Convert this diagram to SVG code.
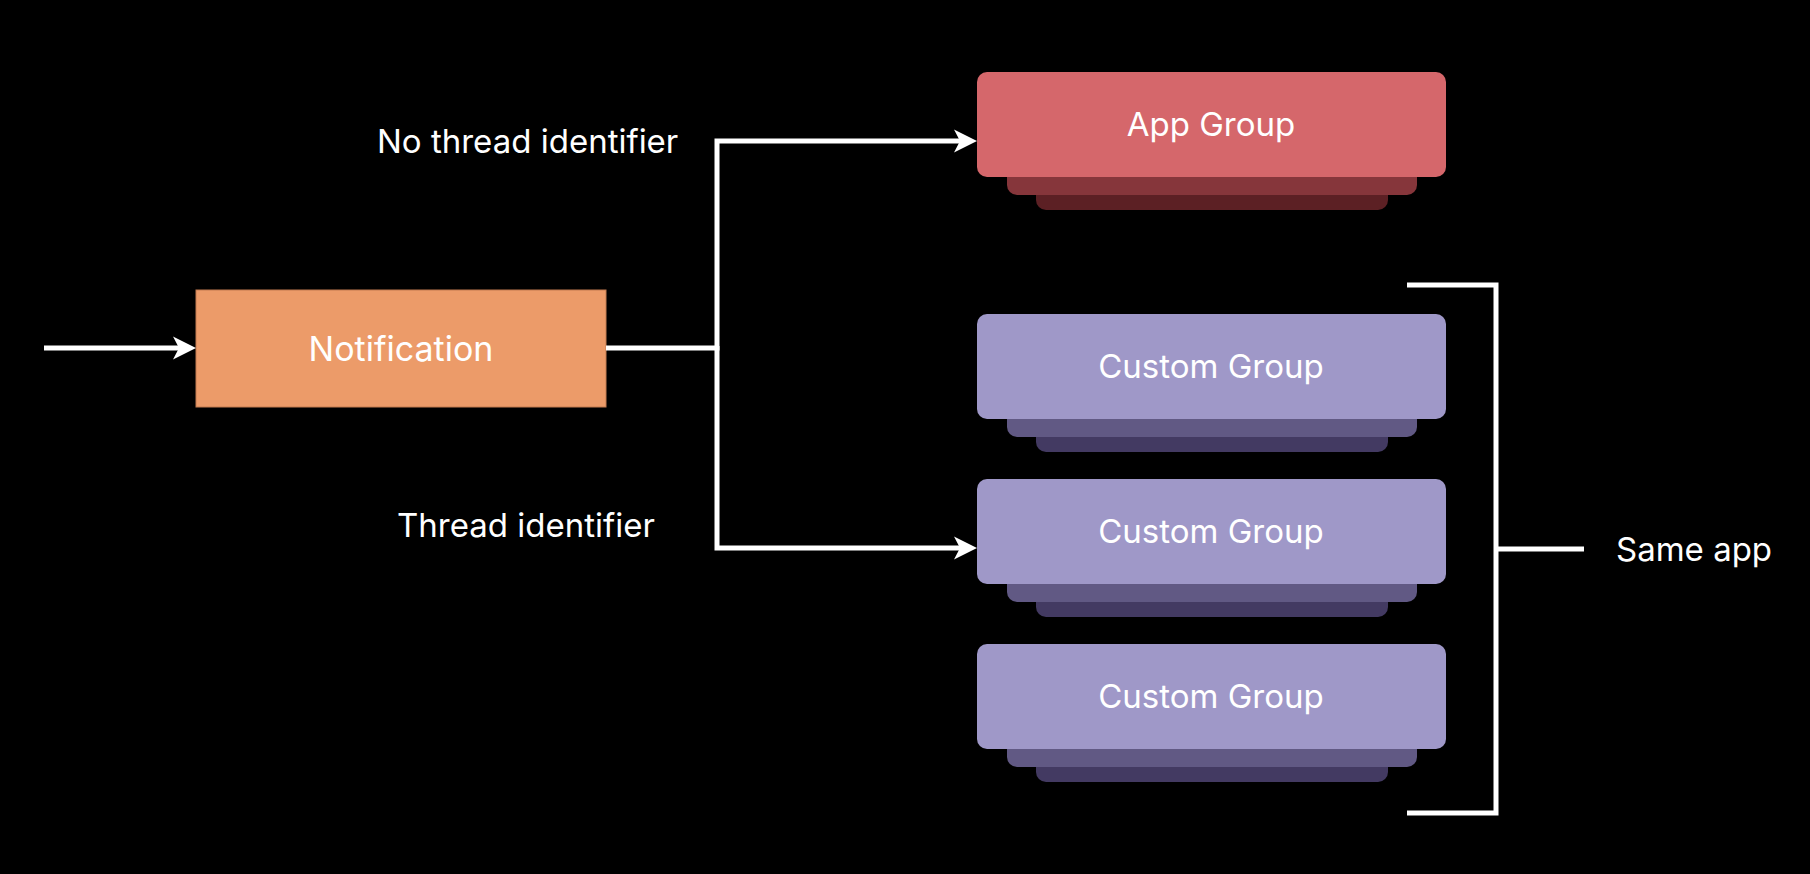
<svg xmlns="http://www.w3.org/2000/svg" width="1810" height="874" viewBox="0 0 1810 874">
<style>
  .t { font-family: Inter, "Open Sans", "Liberation Sans", sans-serif; font-size: 33px; fill: #ffffff; }
  .c { text-anchor: middle; }
  .ln { fill: none; stroke: #ffffff; stroke-width: 5; stroke-linejoin: miter; }
  .app0 { fill: #D5676B; }
  .app1 { fill: #86363B; }
  .app2 { fill: #5C2024; }
  .cg0 { fill: #9F98C8; }
  .cg1 { fill: #615984; }
  .cg2 { fill: #433A62; }
</style>
<defs>
  <marker id="arr" markerUnits="userSpaceOnUse" markerWidth="26" markerHeight="26" viewBox="-24 -13 26 26" refX="-10" refY="0" orient="auto">
    <path d="M0,0 L-23,-11.5 L-17,0 L-23,11.5 Z" fill="#ffffff"/>
  </marker>
</defs>
<rect width="1810" height="874" fill="#000000"/>

<g id="notification">
  <rect x="196" y="290" width="410" height="117" fill="#EC9B69" stroke="#C27A50" stroke-width="1"/>
  <text class="t c" x="401" y="361" style="font-size:34px">Notification</text>
</g>

<g id="app-group">
  <rect class="app2" x="1036" y="160" width="352" height="50" rx="10"/>
  <rect class="app1" x="1007" y="150" width="410" height="45" rx="10"/>
  <rect class="app0" x="977" y="72" width="469" height="105" rx="10"/>
  <text class="t c" x="1211" y="136">App Group</text>
</g>

<g id="custom-group-1">
  <rect class="cg2" x="1036" y="402" width="352" height="50" rx="10"/>
  <rect class="cg1" x="1007" y="392" width="410" height="45" rx="10"/>
  <rect class="cg0" x="977" y="314" width="469" height="105" rx="10"/>
  <text class="t c" x="1211" y="378">Custom Group</text>
</g>

<g id="custom-group-2">
  <rect class="cg2" x="1036" y="567" width="352" height="50" rx="10"/>
  <rect class="cg1" x="1007" y="557" width="410" height="45" rx="10"/>
  <rect class="cg0" x="977" y="479" width="469" height="105" rx="10"/>
  <text class="t c" x="1211" y="543">Custom Group</text>
</g>

<g id="custom-group-3">
  <rect class="cg2" x="1036" y="732" width="352" height="50" rx="10"/>
  <rect class="cg1" x="1007" y="722" width="410" height="45" rx="10"/>
  <rect class="cg0" x="977" y="644" width="469" height="105" rx="10"/>
  <text class="t c" x="1211" y="708">Custom Group</text>
</g>

<g id="labels">
  <text class="t" x="377" y="153">No thread identifier</text>
  <text class="t" x="397" y="537">Thread identifier</text>
  <text class="t" x="1616" y="561">Same app</text>
</g>

<g id="connectors">
  <path class="ln" d="M44,348 H186" marker-end="url(#arr)"/>
  <path class="ln" d="M606,348 H717 V141 H967" marker-end="url(#arr)"/>
  <path class="ln" d="M717,346 V548 H967" marker-end="url(#arr)"/>
  <path class="ln" d="M1407,285 H1496 V813 H1407"/>
  <path class="ln" d="M1496,549 H1584"/>
</g>
</svg>
